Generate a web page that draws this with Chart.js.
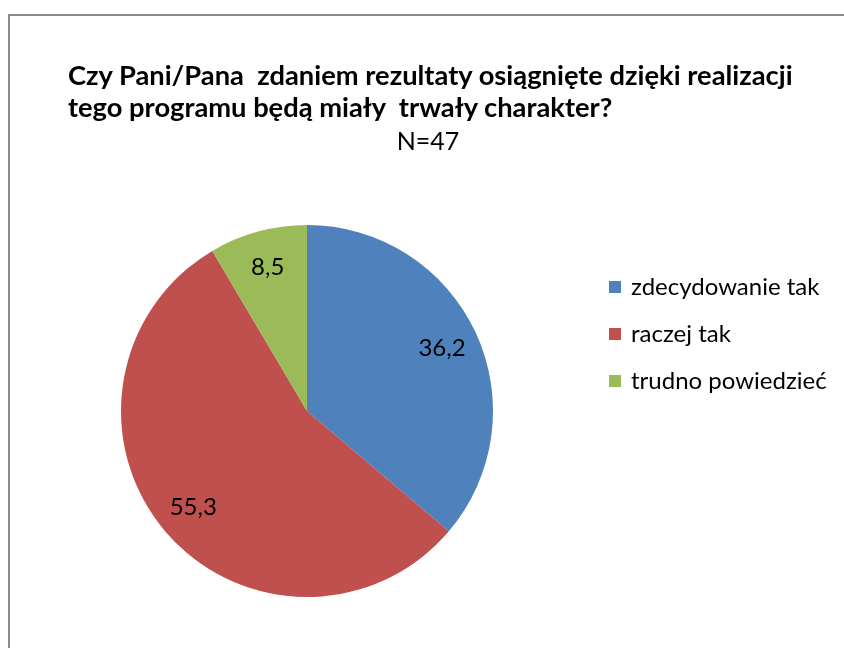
<!DOCTYPE html>
<html>
<head>
<meta charset="utf-8">
<script src="https://cdn.jsdelivr.net/npm/chart.js@4"></script>
<style>
  html, body { margin: 0; padding: 0; background: #fff; overflow: hidden; }
  body { width: 844px; height: 648px; position: relative; font-family: Lato, "Open Sans", sans-serif; color: #000; }
  #frame { position: absolute; left: 8px; top: 14px; width: 900px; height: 700px; border: 2px solid #8c8c8c; }
  #chartBox { position: absolute; left: 0; top: 0; width: 844px; height: 648px; }
  .title { position: absolute; left: 68px; font-weight: bold; font-size: 23px; white-space: pre; line-height: 1; }
  #n { position: absolute; left: 0; width: 856px; top: 128px; text-align: center; font-size: 25px; line-height: 1; }
  .leg { position: absolute; left: 609px; font-size: 24px; line-height: 1; white-space: pre; }
  .leg span.sw { position: absolute; left: 0; top: 6px; width: 12px; height: 12px; }
  .leg span.tx { position: absolute; left: 22px; top: -1px; }
</style>
</head>
<body>
<div id="frame"></div>
<div id="chartBox"><canvas id="pie" width="844" height="648"></canvas></div>
<div class="title" id="t1" style="top:61px">Czy Pani/Pana  zdaniem rezultaty osiągnięte dzięki realizacji</div>
<div class="title" id="t2" style="top:93px">tego programu będą miały  trwały charakter?</div>
<div id="n">N=47</div>
<div id="legend"></div>
<script>
const categories = ['zdecydowanie tak', 'raczej tak', 'trudno powiedzieć'];
const values = [36.2, 55.3, 8.5];
const colors = ['#4F81BD', '#C0504D', '#9BBB59'];

// fit title width to the reference (first line ~725px wide)
const t1 = document.getElementById('t1');
const t2 = document.getElementById('t2');
const w = t1.getBoundingClientRect().width;
const fs = 23 * 725 / w;
t1.style.fontSize = fs + 'px';
t2.style.fontSize = fs + 'px';

// legend
const legend = document.getElementById('legend');
categories.forEach((c, i) => {
    legend.innerHTML += `<div class="leg" style="top:${275 + i * 47}px"><span class="sw" style="background:${colors[i]}"></span><span class="tx">${c}</span></div>`;
});

const sliceLabels = {
    id: 'sliceLabels',
    afterDatasetsDraw(chart) {
        const ctx = chart.ctx;
        const meta = chart.getDatasetMeta(0);
        ctx.save();
        ctx.font = '24px Lato, "Open Sans", sans-serif';
        ctx.fillStyle = '#000';
        ctx.textAlign = 'center';
        ctx.textBaseline = 'middle';
        meta.data.forEach((arc, i) => {
            const p = arc.getProps(['x', 'y', 'startAngle', 'endAngle', 'outerRadius'], true);
            const mid = (p.startAngle + p.endAngle) / 2;
            const r = p.outerRadius * 0.8;
            ctx.fillText(values[i].toFixed(1).replace('.', ','), p.x + Math.cos(mid) * r, p.y + Math.sin(mid) * r);
        });
        ctx.restore();
    }
};

new Chart(document.getElementById('pie'), {
    type: 'pie',
    data: {
        labels: categories,
        datasets: [{
            data: values,
            backgroundColor: colors,
            borderWidth: 0
        }]
    },
    options: {
        responsive: false,
        animation: false,
        layout: { padding: { left: 121, top: 225, right: 351, bottom: 51 } },
        plugins: {
            legend: { display: false },
            title: { display: false },
            tooltip: { enabled: false }
        }
    },
    plugins: [sliceLabels]
});
</script>
</body>
</html>
